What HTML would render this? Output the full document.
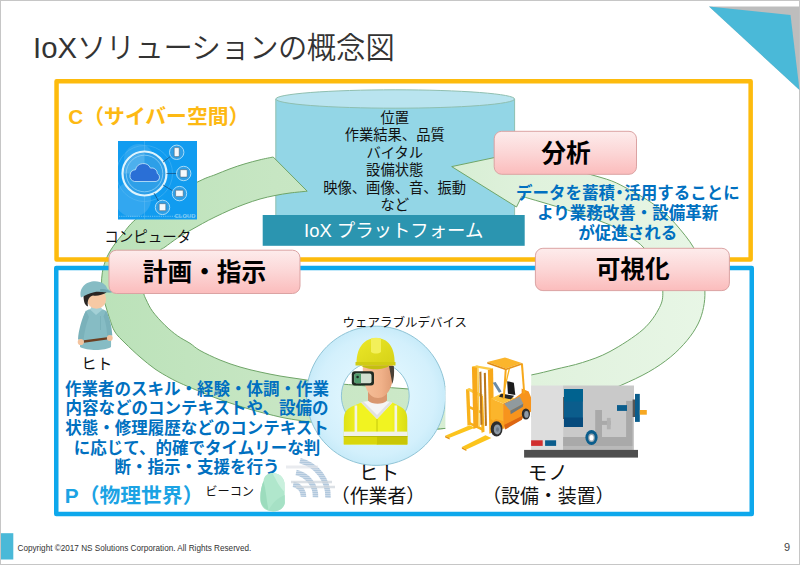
<!DOCTYPE html>
<html lang="ja">
<head>
<meta charset="utf-8">
<title>IoXソリューションの概念図</title>
<style>
html,body{margin:0;padding:0;background:#fff;}
body{width:800px;height:566px;overflow:hidden;position:relative;font-family:"Liberation Sans","Noto Sans CJK JP",sans-serif;}
svg{position:absolute;left:0;top:0;display:block;}
svg text{font-family:"Liberation Sans","Noto Sans CJK JP",sans-serif;}
.b{font-weight:700;}
.blue{fill:#0070c0;font-weight:700;font-size:16.5px;}
.cyl{font-size:14.3px;fill:#111;}
.pink{font-size:24.7px;font-weight:700;fill:#000;}
</style>
</head>
<body>
<svg width="800" height="566" viewBox="0 0 800 566">
<defs>
  <linearGradient id="gPink" x1="0" y1="0" x2="0" y2="1">
    <stop offset="0" stop-color="#fdecec"/><stop offset="0.5" stop-color="#fcd6d6"/><stop offset="1" stop-color="#fbbcbc"/>
  </linearGradient>
  <linearGradient id="gLeft" x1="100" y1="0" x2="450" y2="0" gradientUnits="userSpaceOnUse">
    <stop offset="0" stop-color="#bbe2b9"/><stop offset="0.5" stop-color="#c7e6c3"/><stop offset="1" stop-color="#cde9c9"/>
  </linearGradient>
  <linearGradient id="gRight" x1="420" y1="0" x2="710" y2="0" gradientUnits="userSpaceOnUse">
    <stop offset="0" stop-color="#d4ecd0"/><stop offset="0.4" stop-color="#e0f2dd"/><stop offset="1" stop-color="#e8f6e6"/>
  </linearGradient>
  <radialGradient id="gDonut" cx="376" cy="395.8" r="69.6" gradientUnits="userSpaceOnUse">
    <stop offset="0.45" stop-color="#def5fe"/><stop offset="0.85" stop-color="#d3f0fc"/><stop offset="1" stop-color="#c8ebf9"/>
  </radialGradient>
  <linearGradient id="gVest" x1="0" y1="0" x2="1" y2="0">
    <stop offset="0" stop-color="#dfe218"/><stop offset="0.25" stop-color="#f1f321"/><stop offset="0.75" stop-color="#f1f321"/><stop offset="1" stop-color="#dadd16"/>
  </linearGradient>
  <linearGradient id="gFace" x1="0" y1="0" x2="1" y2="0">
    <stop offset="0" stop-color="#f6c09a"/><stop offset="0.6" stop-color="#f0b189"/><stop offset="1" stop-color="#dd9a72"/>
  </linearGradient>
  <linearGradient id="gHelm" x1="0" y1="0" x2="1" y2="1">
    <stop offset="0" stop-color="#ece828"/><stop offset="1" stop-color="#d6d218"/>
  </linearGradient>
</defs>

<!-- page frame -->
<rect x="0" y="0" width="800" height="566" fill="#fff"/>
<rect x="0.5" y="0.5" width="799" height="564" fill="none" stroke="#c6c6c6" stroke-width="1"/>

<!-- top-right corner mark -->
<polygon points="709,6.5 799.5,6.5 799.5,90" fill="#bdbdbd"/>
<polygon points="709,6.5 790.5,15 799.5,90" fill="#4ab9d8"/>

<!-- title -->
<text id="title" x="33" y="57.8" font-size="29.3" fill="#333" font-weight="350">IoX<tspan letter-spacing="-0.5">ソリューションの</tspan>概念図</text>


<!-- cylinder -->
<path d="M275.8 99 L275.8 240 L514.6 240 L514.6 99 Z" fill="#93d6e6"/>
<path d="M275.8 99 L275.8 240 M514.6 240 L514.6 99" stroke="#8fbfb0" stroke-width="1" fill="none"/>
<ellipse cx="395.2" cy="99" rx="119.4" ry="9.2" fill="#b9e4ef" stroke="#8fbfb0" stroke-width="1"/>

<!-- bands -->
<path id="leftBand" d="M273.2 157.0 C271.0 157.5 264.7 158.6 260.0 159.8 C255.3 160.9 250.0 162.3 245.0 163.8 C240.0 165.3 235.0 166.9 230.0 168.8 C225.0 170.6 220.0 172.8 215.0 174.8 C210.0 176.8 208.3 176.7 200.0 180.8 C191.7 184.8 175.7 192.5 165.0 199.0 C154.3 205.5 142.8 213.5 135.6 219.5 C128.4 225.5 125.8 230.5 122.0 235.0 C118.2 239.5 115.3 243.3 113.0 246.6 C110.7 249.9 109.3 252.4 108.0 255.0 C106.7 257.6 106.0 259.0 105.0 262.0 C104.0 265.0 102.9 269.0 102.3 272.8 C101.7 276.6 101.4 281.0 101.5 285.0 C101.6 289.0 102.2 293.3 103.0 297.0 C103.8 300.7 104.9 303.4 106.0 307.0 C107.1 310.6 108.0 314.1 109.5 318.3 C111.0 322.5 112.4 327.9 115.0 332.0 C117.6 336.1 120.8 338.8 125.0 343.0 C129.2 347.2 135.0 352.7 140.0 357.0 C145.0 361.3 150.0 365.5 155.0 369.0 C160.0 372.5 165.8 375.7 170.0 378.0 C174.2 380.3 175.4 380.9 180.0 383.0 C184.6 385.1 190.8 387.8 197.5 390.5 C204.2 393.2 211.2 396.4 220.0 399.5 C228.8 402.6 240.0 406.4 250.0 409.3 C260.0 412.2 271.7 415.1 280.0 417.0 C288.3 418.9 295.0 419.7 300.0 420.5 C305.0 421.3 303.2 421.1 310.0 422.0 C316.8 422.9 330.2 424.8 341.0 426.0 C351.8 427.2 361.8 428.3 375.0 429.0 C388.2 429.7 407.5 430.2 420.0 430.0 C432.5 429.8 445.0 428.3 450.0 428.0 L450.0 392.0 C443.2 391.5 421.5 389.9 409.0 389.0 C396.5 388.1 386.3 387.3 375.0 386.5 C363.7 385.7 350.2 384.8 341.0 384.0 C331.8 383.2 326.8 382.8 320.0 382.0 C313.2 381.2 306.7 380.0 300.0 379.0 C293.3 378.0 286.7 377.2 280.0 376.0 C273.3 374.8 266.7 373.5 260.0 372.0 C253.3 370.5 246.7 369.0 240.0 367.0 C233.3 365.0 226.7 362.8 220.0 360.0 C213.3 357.2 205.0 353.3 200.0 350.5 C195.0 347.7 193.8 345.8 190.0 343.3 C186.2 340.9 181.7 338.8 177.5 335.8 C173.3 332.8 169.2 329.4 165.0 325.3 C160.8 321.2 155.6 315.5 152.5 311.3 C149.4 307.1 147.8 303.0 146.3 300.0 C144.8 297.0 144.5 296.3 143.7 293.5 C142.9 290.7 141.4 286.8 141.5 283.0 C141.6 279.2 142.6 274.8 144.0 271.0 C145.4 267.2 147.2 263.5 150.0 260.0 C152.8 256.5 158.1 251.9 160.6 249.8 C163.1 247.6 162.2 249.0 165.0 247.0 C167.8 245.0 173.3 240.8 177.5 238.0 C181.7 235.2 185.8 232.9 190.0 230.5 C194.2 228.1 198.3 225.8 202.5 223.5 C206.7 221.2 210.4 219.2 215.0 217.0 C219.6 214.8 225.0 212.2 230.0 210.0 C235.0 207.8 240.0 205.8 245.0 204.0 C250.0 202.2 255.0 200.4 260.0 199.0 C265.0 197.6 270.0 196.5 275.0 195.5 C280.0 194.5 284.6 193.7 290.0 193.0 C295.4 192.3 304.3 191.5 307.2 191.2 Z" fill="url(#gLeft)" stroke="#6fa568" stroke-width="1"/>
<path id="rightBand" d="M451.7 166.6 L526.4 150.8 L531.0 160.0 C535.8 161.0 550.4 163.7 560.0 166.0 C569.6 168.3 580.1 171.5 588.7 174.0 C597.3 176.5 605.3 178.5 611.8 181.0 C618.3 183.5 622.4 186.0 627.7 188.8 C633.0 191.6 638.3 194.3 643.6 197.6 C648.9 200.9 654.2 204.3 659.5 208.7 C664.8 213.1 669.7 217.3 675.4 223.8 C681.1 230.3 689.3 240.0 693.7 247.7 C698.1 255.4 700.1 262.8 702.0 270.0 C703.9 277.2 704.6 284.8 704.9 291.0 C705.1 297.2 704.6 302.0 703.5 307.5 C702.4 313.0 700.8 318.5 698.0 324.0 C695.2 329.5 691.6 335.0 687.0 340.5 C682.4 346.0 676.9 351.8 670.5 357.0 C664.1 362.2 656.8 367.3 648.5 372.0 C640.2 376.7 630.8 381.0 621.0 385.3 C611.2 389.6 601.8 393.6 590.0 398.0 C578.2 402.4 565.0 407.8 550.0 412.0 C535.0 416.2 516.7 420.3 500.0 423.0 C483.3 425.7 463.3 426.8 450.0 428.0 C436.7 429.2 425.0 429.7 420.0 430.0 L420.0 388.0 C425.0 387.7 436.7 387.3 450.0 386.0 C463.3 384.7 486.4 381.9 500.0 380.0 C513.6 378.1 522.4 376.7 531.6 374.9 C540.8 373.1 546.5 371.5 555.0 369.4 C563.5 367.3 573.3 365.5 582.5 362.5 C591.7 359.5 599.9 357.0 610.0 351.5 C620.1 346.0 634.8 336.8 643.0 329.5 C651.2 322.2 656.2 313.9 659.5 307.5 C662.8 301.1 662.9 297.2 662.8 291.0 C662.7 284.8 662.1 277.2 659.0 270.0 C655.9 262.8 648.8 253.5 644.0 248.0 C639.2 242.5 635.7 240.8 630.0 237.0 C624.3 233.2 620.4 229.5 610.0 225.0 C599.6 220.5 582.2 214.8 567.5 210.0 C552.8 205.2 529.4 198.6 521.8 196.3 L516.5 207.0 Z" fill="url(#gRight)" stroke="#6fa568" stroke-width="1"/>

<!-- cyber box / physical box -->
<rect x="56.55" y="81.25" width="694.1" height="178.3" fill="none" stroke="#fdbb0d" stroke-width="4.5" stroke-linejoin="round"/>
<rect x="56.25" y="268.05" width="695.5" height="245.9" fill="none" stroke="#0ea8ec" stroke-width="4.5" stroke-linejoin="round"/>

<!-- platform bar -->
<rect x="262.7" y="215" width="262" height="30.8" fill="#2b95b0"/>
<text x="393.7" y="236.5" font-size="18.4" fill="#fff" text-anchor="middle">IoX プラットフォーム</text>

<!-- cylinder text -->
<g class="cyl" text-anchor="middle">
<text x="394.7" y="123">位置</text>
<text x="394.7" y="140.4">作業結果、品質</text>
<text x="394.7" y="157.8">バイタル</text>
<text x="394.7" y="175.2">設備状態</text>
<text x="394.7" y="192.6">映像、画像、音、振動</text>
<text x="394.7" y="210">など</text>
</g>

<!-- C label -->
<text id="clabel" x="68.3" y="124" font-size="20.8" class="b" fill="#fdb913">C（サイバー空間）</text>

<!-- cloud picture -->
<g id="cloud">
<clipPath id="cclip"><rect x="118" y="141" width="79" height="78.5"/></clipPath>
<rect x="118" y="141" width="79" height="78.5" fill="#119cf0"/>
<g clip-path="url(#cclip)">
<circle cx="133" cy="199" r="18" fill="#45aef0" opacity="0.65"/>
<circle cx="139" cy="159" r="15" fill="#45aef0" opacity="0.55"/>
<circle cx="144.5" cy="173.5" r="28" fill="none" stroke="#6cc0f3" stroke-width="0.5" opacity="0.8"/>
<line x1="119" y1="216.3" x2="196" y2="216.3" stroke="#8ed0f6" stroke-width="0.7" stroke-dasharray="1.2 1"/>
<line x1="144.5" y1="141" x2="144.5" y2="219" stroke="#6cc0f3" stroke-width="0.4"/>
</g>
<circle cx="144.5" cy="173.5" r="22" fill="#2d9fe8" stroke="#dff4fd" stroke-width="2.2"/>
<path d="M144.5 173.5 L144.5 153 A20.5 20.5 0 0 0 124 173.5 Z" fill="#5bb8f0" opacity="0.7"/>
<circle cx="144.5" cy="173.5" r="18.3" fill="none" stroke="#8ed0f6" stroke-width="0.8"/>
<path d="M134.5 181.5 a6 6 0 0 1 1 -11.8 a8 8 0 0 1 15 -1.6 a5.4 5.4 0 0 1 6.8 5.4 a4.3 4.3 0 0 1 -1.2 8 Z" fill="#2a6fd6" stroke="#c9ebfb" stroke-width="0.8"/>
<g stroke="#134a7a" stroke-width="0.7">
<line x1="163" y1="162" x2="171" y2="156"/><line x1="166.5" y1="173.5" x2="177" y2="173.5"/>
<line x1="163" y1="185" x2="173" y2="191"/><line x1="154" y1="193" x2="159" y2="202"/>
</g>
<g fill="#2f9fe6" stroke="#b5e2f9" stroke-width="0.9">
<circle cx="176.7" cy="152.3" r="7.2"/><circle cx="183.7" cy="173.5" r="7.2"/><circle cx="179.5" cy="193.6" r="7.2"/><circle cx="162.5" cy="207.4" r="7.2"/>
</g>
<g fill="#f4f9fd" stroke="#4a5560" stroke-width="0.5">
<rect x="174.2" y="147.6" width="5" height="9" rx="1"/>
<rect x="180.2" y="169.7" width="7" height="7.4" rx="0.8"/>
<rect x="175.6" y="190.2" width="7.6" height="6.2" rx="0.5"/>
<rect x="159.2" y="203.7" width="6.6" height="7" rx="0.6"/>
</g>
<text x="195.5" y="218.3" font-size="5.9" fill="#7fcaf5" text-anchor="end" font-weight="700">CLOUD</text>
</g>
<text x="104.3" y="241.6" font-size="14.5" fill="#111">コンピュータ</text>

<!-- pink boxes -->
<g stroke="#dba3a3" stroke-width="1" fill="url(#gPink)">
<rect x="109" y="250.2" width="191" height="43.3" rx="7.5"/>
<rect x="494.2" y="131.3" width="142.3" height="43" rx="7.5"/>
<rect x="535.4" y="248.3" width="194" height="42.3" rx="7.5"/>
</g>
<g class="pink" text-anchor="middle">
<text x="204.5" y="280.5">計画・指示</text>
<text x="566" y="161.5">分析</text>
<text x="632.7" y="278">可視化</text>
</g>

<!-- blue note right -->
<g class="blue" text-anchor="middle">
<text x="627.8" y="199.3">データを蓄積<tspan dx="-3.6">・</tspan><tspan dx="-3.6">活用することに</tspan></text>
<text x="627.8" y="218.9">より業務改善・設備革新</text>
<text x="627.8" y="238.5">が促進される</text>
</g>

<!-- worker (left) -->
<g id="worker">
<path d="M80 347 C79.5 336 82 318 86 311 C89 307.5 103 307.5 106 311 C110 318 111.5 336 111 347 C105 351 87 351 80 347 Z" fill="#86bcc4"/>
<path d="M86 310.5 C82 318 78.5 330 78 339.5 L83.6 340.5 C84.3 332 86.5 323 89 317 Z" fill="#7ab1ba"/>
<path d="M106 310.5 C109.5 317 112 327 112.3 335.5 L107.2 336.5 C107 329 105.5 321 103.5 316.5 Z" fill="#7ab1ba"/>
<path d="M83.8 340.3 L107 337.2 L107.2 339.6 L84 342.8 Z" fill="#6b3f22"/>
<circle cx="80.8" cy="342" r="3.1" fill="#f3c39e"/><circle cx="109.8" cy="338" r="2.9" fill="#f3c39e"/>
<path d="M90 309.5 L96 315 L102.5 309.5 L100 306 L92 306 Z" fill="#a3d0d6"/>
<path d="M100.5 316 L100.5 330" stroke="#76adb6" stroke-width="0.7"/>
<ellipse cx="96.5" cy="299" rx="9.6" ry="9.8" fill="#f6c9a4"/>
<path d="M83.5 295 C83.5 303 85.5 305.5 88 306.5 C87 300 89 296.5 93 295.5 C97 296.5 103 294.5 106.5 292.5 L104 289 L85 291 Z" fill="#2a2623"/>
<path d="M81 297.5 C78.5 288 86 281.3 95 281.3 C102 281.3 106.3 285 107.2 288.5 L112 292.2 C106 292.8 100 291.2 94 292.2 C89 293.2 85 295.2 81 297.5 Z" fill="#86bcc4"/>
<path d="M100 289.3 C104 288.3 108 289.8 112 292.2 C108 292.8 104 292.3 100 291.8 Z" fill="#6fa6af"/>
</g>
<text x="81.2" y="369" font-size="15.3" fill="#111" letter-spacing="0.6">ヒト</text>


<!-- donut -->
<path d="M376.1 326.2 a69.6 69.6 0 1 0 0.01 0 Z M375.3 362 a33.9 33.9 0 1 1 -0.01 0 Z" fill="url(#gDonut)" fill-rule="evenodd" stroke="#8fc4d6" stroke-width="1"/>
<text x="404.8" y="327.3" font-size="12.5" fill="#111" text-anchor="middle">ウェアラブルデバイス</text>

<!-- wearable person -->
<g id="person">
<path d="M343.8 444.4 L343.8 420 C343.8 412 347 409 352 406.5 L362 402.2 L392 402.2 L400 406.5 C404.5 409 407.3 412 407.3 420 L407.3 444.4 Z" fill="url(#gVest)"/>
<path d="M361 402.5 L377 419 L392.5 402.5 C388 400 365 400 361 402.5 Z" fill="#f5f5f5"/>
<path d="M361 402.5 L377 419 L392.5 402.5 L390 401.5 L377 415 L363.5 401.5 Z" fill="#dcdcdc" opacity="0.8"/>
<path d="M377 419 L377 444.4" stroke="#c4c80e" stroke-width="1"/>
<rect x="354.6" y="405.5" width="2.6" height="26.5" fill="#f3f3e2"/><rect x="394.5" y="405.5" width="2.6" height="26.5" fill="#f3f3e2"/>
<rect x="343.8" y="431.6" width="63.5" height="4.4" fill="#f1f1e8"/>
<rect x="343.8" y="436" width="63.5" height="8.4" fill="#d9d60c"/><rect x="377" y="436" width="30.3" height="8.4" fill="#c9c606"/><rect x="343.8" y="436" width="63.5" height="0.9" fill="#b4b80e"/>
<path d="M368 390 L368 400.5 C372 404.8 383 404.8 387 400.5 L387 390 Z" fill="#d9976f"/>
<path d="M362.8 368 C362.8 362 368 358 378 358 C388 358 393.6 362 393.6 370 C393.6 385 388 398 378 398 C368 398 362.8 385 362.8 368 Z" fill="url(#gFace)"/>
<path d="M389 366 L393.8 366 C394.6 372 394 379 392.3 384 C391.5 378 390 372 389 366 Z" fill="#4a4036"/>
<path d="M356.5 363 C356.5 347 365 338 376 338 C388 338 394.6 347 394.6 363 Z" fill="url(#gHelm)"/>
<path d="M371 338.6 L371 352 C374 354 378 354 381 352 L381 338.6 C378 337.5 374 337.5 371 338.6 Z" fill="#f3f05a"/>
<path d="M355.5 362 L395.5 362 L395.5 365.5 L355.5 365.5 Z" fill="#d0cc14"/>
<path d="M361 365.5 C367 370.5 384 370.5 389.5 365.5 Z" fill="#c3bf10"/>
<rect x="351.8" y="371.3" width="22.2" height="14.3" rx="3" fill="#1f2a22"/>
<rect x="354.3" y="373.6" width="17.2" height="9.6" rx="1.8" fill="#d2dfd0"/>
<path d="M354.3 375.4 a1.8 1.8 0 0 1 1.8 -1.8 L361 373.6 L361 383.2 L356.1 383.2 a1.8 1.8 0 0 1 -1.8 -1.8 Z" fill="#4f9a6c"/>
<circle cx="357.6" cy="377" r="1.3" fill="#1f2a22"/>
</g>

<!-- blue paragraph -->
<g class="blue" text-anchor="middle">
<text x="197" y="394.8">作業者のスキル・経験・体調・作業</text>
<text x="197" y="414.4">内容などのコンテキストや、設備の</text>
<text x="197" y="434">状態・修理履歴などのコンテキスト</text>
<text x="197" y="453.6">に応じて、的確でタイムリーな判</text>
<text x="197" y="473.2">断・指示・支援を行う</text>
</g>

<!-- forklift on white -->
<g id="forklift">
<rect x="445.4" y="352" width="85.8" height="100" fill="#fff"/>
<g transform="translate(440 350) scale(0.18553)">
<polygon points="160,406 188,419 52,473 28,462" fill="#fcc41c"/>
<polygon points="28,462 52,473 52,482 28,471" fill="#e5950f"/>
<polygon points="245,460 277,474 142,536 118,523" fill="#fcc41c"/>
<polygon points="118,523 142,536 142,545 118,532" fill="#e5950f"/>
<polygon points="140,213 158,208 166,402 148,408" fill="#f9b21c"/>
<polygon points="216,250 232,246 240,440 224,446" fill="#f9b21c"/>
<polygon points="140,213 158,205 234,243 217,252" fill="#fccb45"/>
<polygon points="152,298 228,332 228,346 152,312" fill="#f9b21c"/>
<polygon points="155,385 230,420 230,436 155,400" fill="#f9b21c"/>
<polygon points="172,90 200,84 207,416 180,426" fill="#f7a81a"/>
<polygon points="200,84 208,88 214,412 207,416" fill="#fccb45"/>
<polygon points="212,118 223,116 229,402 218,404" fill="#b9761c"/>
<polygon points="236,124 247,122 253,408 242,410" fill="#b9761c"/>
<polygon points="258,106 286,99 292,440 266,452" fill="#f7a81a"/>
<polygon points="172,90 200,83 286,98 258,106" fill="#fccb45"/>
<polygon points="340,288 402,260 440,232 440,208 478,224 493,262 491,332 442,372 352,424 340,404" fill="#f7941d"/>
<polygon points="274,262 340,288 340,404 300,394 274,372" fill="#fbb52c"/>
<polygon points="274,262 338,232 402,260 340,288" fill="#fcc23a"/>
<polygon points="345,404 442,356 442,376 352,428" fill="#dd6612"/>
<polygon points="268,398 300,372 344,384 348,424 275,420" fill="#f9a11e"/>
<polygon points="346,290 430,250 449,290 379,328" fill="#909a9e"/>
<polygon points="379,328 449,290 447,306 381,346" fill="#6f797d"/>
<polygon points="362,168 398,176 406,242 366,236" fill="#1c1c1c"/>
<polygon points="328,236 400,246 382,266 318,252" fill="#26282a"/>
<polygon points="284,176 300,172 332,224 318,230" fill="#6a8aa5"/>
<polygon points="436,74 447,71 459,232 449,236" fill="#f7a81a"/>
<polygon points="349,106 360,103 349,262 338,266" fill="#f7a81a"/>
<polygon points="370,100 378,98 350,216 343,218" fill="#f9b21c"/>
<polygon points="255,65 350,40 441,70 355,100" fill="#fbb52c"/>
<polygon points="255,65 355,100 355,109 255,74" fill="#e08a10"/>
<polygon points="355,100 441,70 441,79 355,109" fill="#e8961a"/>
<ellipse cx="305" cy="425" rx="32" ry="41" fill="#2d2d2d"/><ellipse cx="309" cy="428" rx="19" ry="27" fill="#8d99a5"/><ellipse cx="310" cy="429" rx="8" ry="12" fill="#6e7a86"/>
<ellipse cx="463" cy="345" rx="22" ry="30" fill="#2d2d2d"/><ellipse cx="466" cy="347" rx="12" ry="18" fill="#8d99a5"/>
</g>
</g>

<!-- machine -->
<g id="machine">
<rect x="531.1" y="385.5" width="32" height="64.5" fill="#dddddd"/>
<rect x="563.1" y="385.5" width="70.9" height="64.5" fill="#c9c9c9"/>
<rect x="563.1" y="437" width="69.5" height="9" fill="#a9a9a9"/>
<rect x="563.1" y="446" width="69.5" height="4" fill="#b9b9b9"/>
<rect x="563.1" y="397" width="1.4" height="22" fill="#555"/>
<rect x="564" y="389" width="18.9" height="38" fill="#0b5d8c"/>
<rect x="564" y="389" width="18.9" height="12.5" fill="#00628f"/>
<rect x="564" y="417.5" width="18.9" height="9.5" fill="#064a7c"/>
<rect x="595.2" y="410" width="6.8" height="27" fill="#a9a9a9"/>
<rect x="602" y="420.9" width="8.7" height="4" fill="#a9a9a9"/>
<rect x="606.9" y="417.9" width="3.8" height="11.4" fill="#b1b1b1"/>
<rect x="626.1" y="400.9" width="6.5" height="36.1" fill="#a9a9a9"/>
<rect x="617" y="405.1" width="10" height="5.8" fill="#0b5d8c"/>
<rect x="632.6" y="399.5" width="2.6" height="17.5" fill="#555"/>
<rect x="635" y="393.9" width="4.8" height="28" fill="#0b5d8c"/>
<rect x="639.8" y="410" width="7" height="4.7" fill="#f7a823"/>
<ellipse cx="591.5" cy="437.5" rx="6.1" ry="7.6" fill="#0b5d8c"/>
<ellipse cx="591.5" cy="437.8" rx="3.3" ry="4.2" fill="#9aa7b0"/>
<ellipse cx="591.5" cy="437.8" rx="2.1" ry="2.8" fill="#fff"/>
<rect x="531.1" y="440.3" width="11.6" height="5.6" fill="#d12f2f"/>
<rect x="545.1" y="440.3" width="11" height="5.6" fill="#0b5d8c"/>
<rect x="524.1" y="449.9" width="113.9" height="7.7" fill="#4e4e4e"/>
</g>

<!-- beacon + wifi -->
<g id="beacon">
<defs>
<pattern id="stripes" width="4" height="2" patternUnits="userSpaceOnUse"><rect x="0" y="0.4" width="4" height="1" fill="#7ea3c6"/></pattern>
<pattern id="stripes2" width="4" height="2.4" patternUnits="userSpaceOnUse"><rect x="0" y="0" width="4" height="1.1" fill="#c9d3dc"/></pattern>
</defs>
<g fill="none" stroke-linecap="butt">
<path d="M293.2 484.2 A12.5 12.5 0 0 1 303.5 496.9" stroke="url(#stripes)" stroke-width="5.5"/>
<path d="M296.1 472.5 A24.5 24.5 0 0 1 315.5 497.4" stroke="url(#stripes)" stroke-width="5.5"/>
<path d="M300.0 460.6 A37 37 0 0 1 328.0 497.8" stroke="url(#stripes)" stroke-width="5.5"/>
<path d="M291 482 L332 482 M296 487 L335 487" stroke="#cfd5dc" stroke-width="2.5" opacity="0.75"/>
<path d="M286 467 L318 467" stroke="#dfe3e8" stroke-width="3" opacity="0.7"/>
</g>
<path d="M263.5 481 C264 475.5 268 473 272.5 473 C278.5 473 283.5 476.5 284.5 483 L284.8 503 C284 508 279 511.5 273 511.5 C267 511.5 262 508.5 260.8 502.5 C259.6 496 261 487 263.5 481 Z" fill="#b0e7cc"/>
<path d="M263.5 481 C266 490 266.5 500 268.5 510.3 C264.5 508.5 262 505.5 260.8 502.5 C259.6 496 261 487 263.5 481 Z" fill="#9cdcbd"/>
<path d="M272.5 473 C278.5 473 283.5 476.5 284.5 483 L284.6 492 C280 488 276 480 272.5 473 Z" fill="#c9f0dd"/>
<path d="M268.5 510.3 C272 503 279 497 284.7 495 L284.8 503 C284 508 279 511.5 273 511.5 Z" fill="#a6e1c5"/>
</g>
<text x="205.3" y="495.6" font-size="12.2" fill="#111">ビーコン</text>

<!-- P label -->
<text id="plabel" x="64.8" y="503" font-size="20.8" class="b" fill="#1ba3e4">P（物理世界）</text>

<!-- bottom labels -->
<g font-size="18.9" fill="#111" text-anchor="middle">
<text x="379.6" y="480" font-size="19.6" letter-spacing="1.2">ヒト</text>
<text x="378" y="502.8">（作業者）</text>
<text x="548.3" y="480" font-size="19.6" letter-spacing="1">モノ</text>
<text x="548.3" y="502.8">（設備・装置）</text>
</g>

<!-- footer -->
<rect x="1" y="533.2" width="12.3" height="26.3" fill="#4ab9d8"/>
<text id="copy" x="17.5" y="551" font-size="8.8" fill="#333" textLength="233.8" lengthAdjust="spacingAndGlyphs">Copyright ©2017 NS Solutions Corporation. All Rights Reserved.</text>
<text x="784" y="551" font-size="11" fill="#444">9</text>
</svg>
</body>
</html>
